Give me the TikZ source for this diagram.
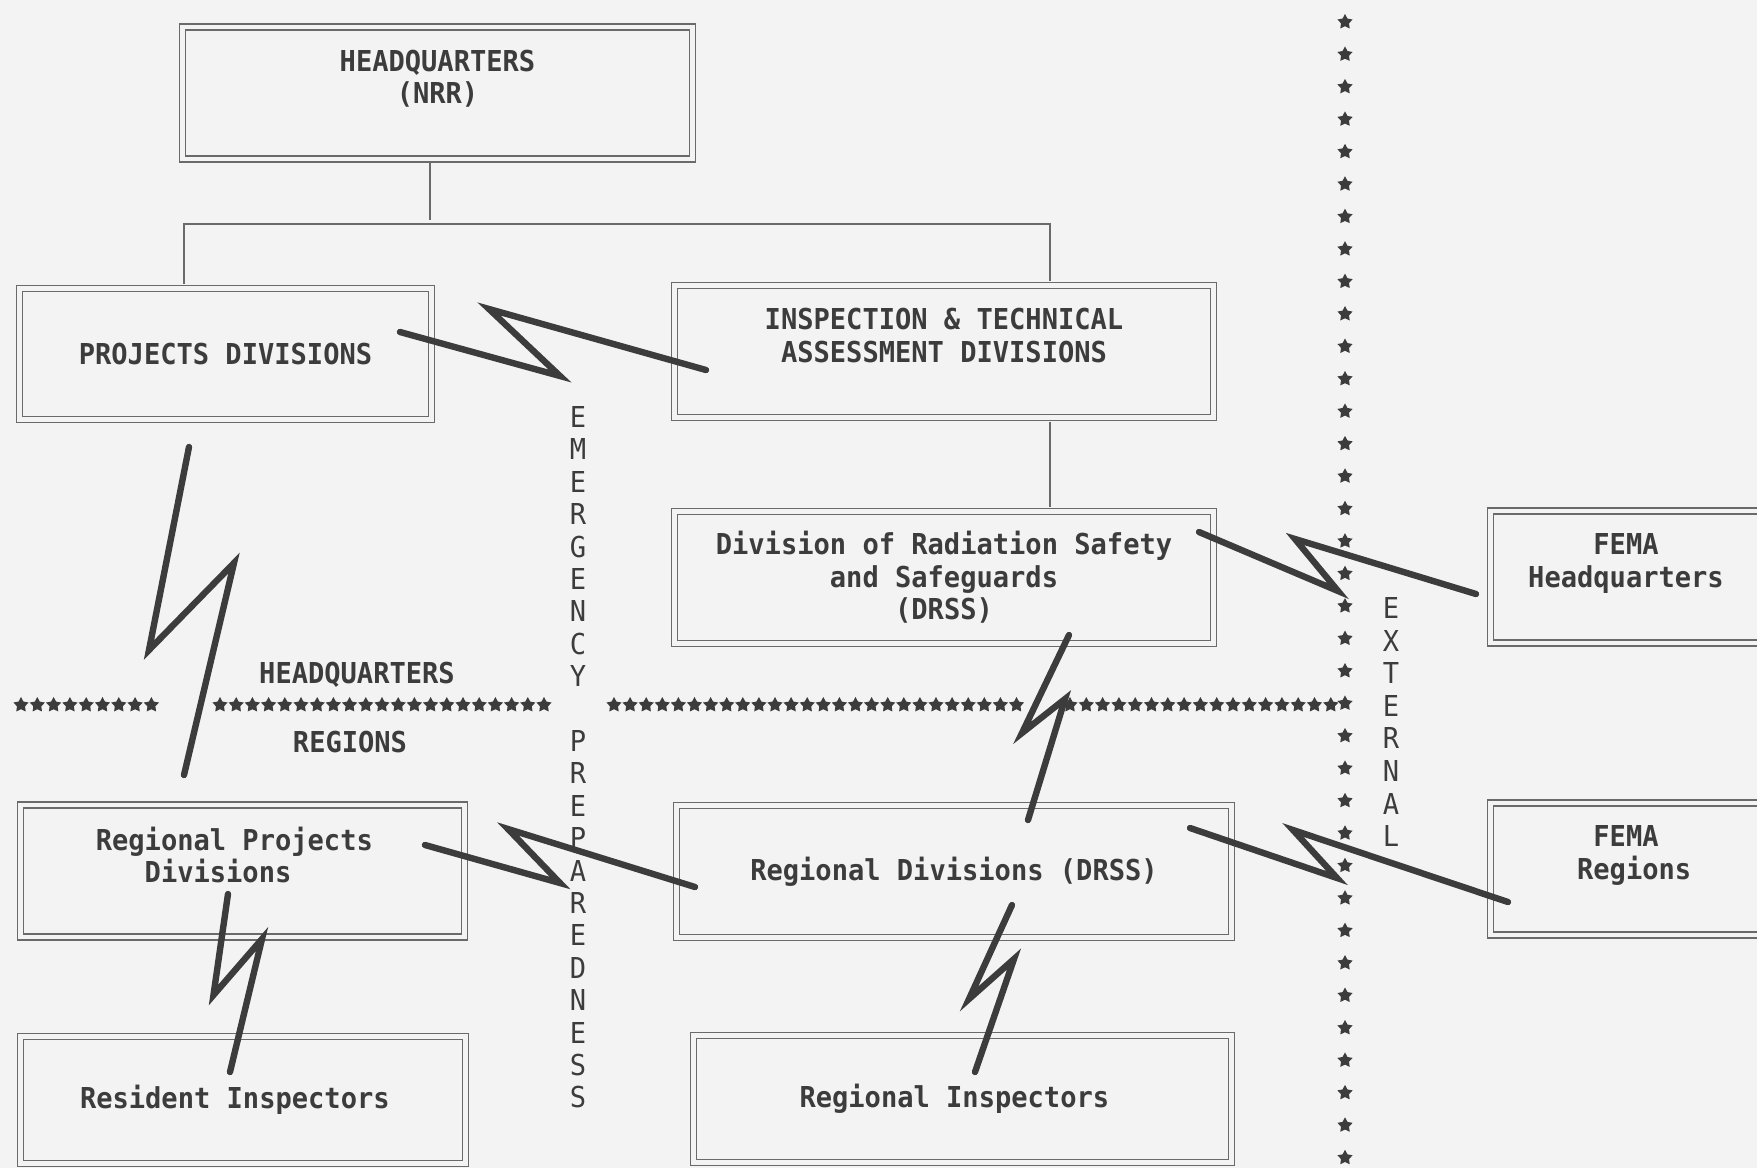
\documentclass[tikz,border=0pt]{standalone}
\usepackage{fontspec}
\newfontfamily\typer{DejaVu Sans Mono}[FakeStretch=0.94]
\newcommand{\typesize}{\fontsize{14.4}{16.3}\selectfont}
\newcommand{\pad}{\hphantom{x}}
\usetikzlibrary{shapes.geometric}
\definecolor{paper}{HTML}{F3F3F3}
\definecolor{ink}{HTML}{3C3C3C}
\definecolor{rule}{HTML}{6A6A6A}
\tikzset{
	box/.style={draw=rule, line width=0.6pt, double=paper, double distance=2.4pt, align=center, inner sep=0pt, text=ink, font=\typer\typesize\bfseries},
	link/.style={draw=rule, line width=0.8pt, shorten <=1.8pt, shorten >=1.8pt},
	bolt/.style={draw=ink, line width=3.2pt, line cap=round, line join=miter},
	txt/.style={text=ink, inner sep=0pt, font=\typer\typesize\bfseries},
	letter/.style={text=ink, inner sep=0pt, font=\typer\typesize},
	pip/.style={star, star points=5, star point ratio=1.9, fill=ink, inner sep=0pt, minimum size=8pt},
}

\begin{document}
\begin{tikzpicture}[x=0.5pt,y=-0.5pt]
			\fill[paper] (0,0) rectangle (1757,1168);
			\clip (0,0) rectangle (1757,1168);
			\node[box, minimum width=255pt, minimum height=66pt] (hq) at (437.5,93) {HEADQUARTERS\\(NRR)\\~};
			\node[box, minimum width=206pt, minimum height=65.4pt] (proj) at (225.5,354) {PROJECTS DIVISIONS};
			\node[box, minimum width=269.4pt, minimum height=66pt] (ita) at (944,351.5) {INSPECTION \& TECHNICAL\\ASSESSMENT DIVISIONS\\~};
			\node[box, minimum width=269.4pt, minimum height=66pt] (drss) at (944,577.5) {Division of Radiation Safety\\and Safeguards\\(DRSS)};
			\node[box, minimum width=135.4pt, minimum height=66pt] (femahq) at (1626,577) {FEMA\\Headquarters\\~};
			\node[box, minimum width=221.9pt, minimum height=66pt] (rproj) at (242.5,871) {Regional Projects\pad\\Divisions\pad\pad\pad\\~};
			\node[box, minimum width=277.4pt, minimum height=66pt] (rdiv) at (954,871.5) {Regional Divisions (DRSS)};
			\node[box, minimum width=135.4pt, minimum height=66pt] (femareg) at (1626,869) {FEMA\\\pad Regions\\~};
			\node[box, minimum width=222.4pt, minimum height=63.4pt] (resinsp) at (243,1100) {Resident Inspectors\pad};
			\node[box, minimum width=268.9pt, minimum height=63.4pt] (reginsp) at (962.5,1099) {Regional Inspectors\pad};

			\coordinate (bus) at (430,224);
			\coordinate (projtap) at (184,224);
			\coordinate (itatap) at (1050,224);
			\draw[link] (hq.south -| bus) -- (bus);
			\draw[link] (proj.north -| projtap) -- (projtap) -- (itatap) -- (ita.north -| itatap);
			\draw[link] (ita.south -| itatap) -- (drss.north -| itatap);

			\foreach \k in {0,...,8}
				\node[pip] (rowa\k) at ({21+16.3*\k},705) {};
			\foreach \k in {0,...,20}
				\node[pip] (rowb\k) at ({220+16.2*\k},705) {};
			\foreach \k in {0,...,25}
				\node[pip] (rowc\k) at ({614+16.1*\k},705) {};
			\foreach \k in {0,...,16}
				\node[pip] (rowd\k) at ({1070+16.3*\k},705) {};
			\foreach \i in {0,...,35}
				\node[pip] (ext\i) at (1345,{22+32.45*\i}) {};
			\node[txt] (hqlabel) at (357,675) {HEADQUARTERS};
			\node[txt] (rglabel) at (350,742) {REGIONS};
			\foreach \ch [count=\i from 0] in {E,M,E,R,G,E,N,C,Y,{},P,R,E,P,A,R,E,D,N,E,S,S}
				\node[letter] (ep\i) at (578,{417+32.4*\i}) {\ch};
			\foreach \ch [count=\i from 0] in {E,X,T,E,R,N,A,L}
				\node[letter] (ex\i) at (1391,{608+32.6*\i}) {\ch};

			\draw[bolt] ([shift={(174.5,-22)}]proj.center) -- (560,376) -- (489,309) -- ([shift={(-238,18.5)}]ita.center);
			\draw[bolt] ([shift={(-36.5,93)}]proj.center) -- (149,650) -- (234,563) -- ([shift={(-58.5,-96)}]rproj.center);
			\draw[bolt] ([shift={(125,57.5)}]drss.center) -- (1022,733) -- (1065,699) -- ([shift={(74,-51.5)}]rdiv.center);
			\draw[bolt] ([shift={(255,-45.5)}]drss.center) -- (1338,591) -- (1295,539) -- ([shift={(-150,17)}]femahq.center);
			\draw[bolt] ([shift={(182.5,-26)}]rproj.center) -- (560,883) -- (508,829) -- ([shift={(-259,15.5)}]rdiv.center);
			\draw[bolt] ([shift={(-14.5,23)}]rproj.center) -- (213.5,995) -- (262,939) -- ([shift={(-13,-28)}]resinsp.center);
			\draw[bolt] ([shift={(58,33.5)}]rdiv.center) -- (969,999) -- (1014,959) -- ([shift={(12.5,-27)}]reginsp.center);
			\draw[bolt] ([shift={(236,-43.5)}]rdiv.center) -- (1337,878) -- (1293,830) -- ([shift={(-118,33)}]femareg.center);
		\end{tikzpicture}
\end{document}
